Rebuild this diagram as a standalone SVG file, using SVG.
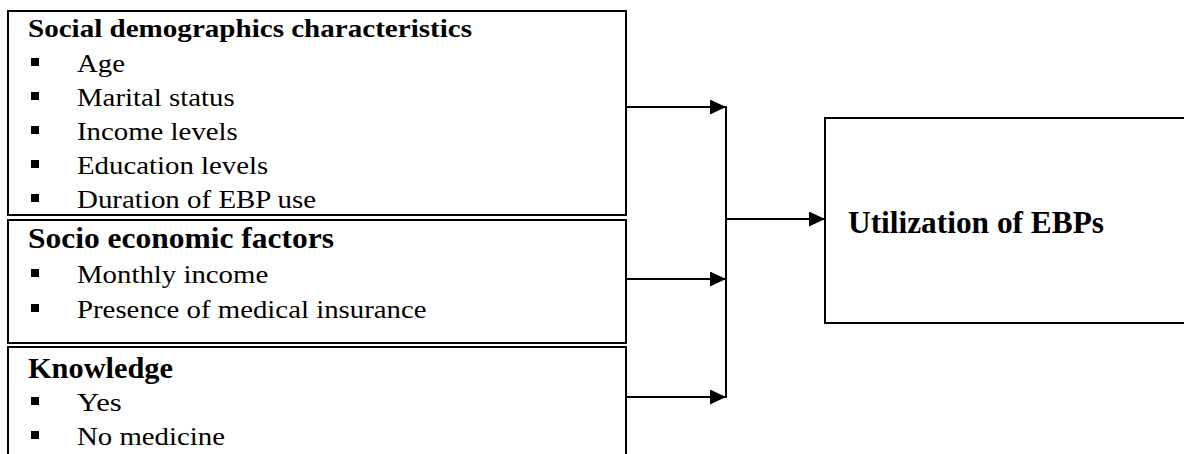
<svg xmlns="http://www.w3.org/2000/svg" width="1184" height="454" viewBox="0 0 1184 454">
  <style>
    .box { fill: #ffffff; stroke: #000000; stroke-width: 2; }
    .title { font-family: "Liberation Serif", "Times New Roman", serif; font-weight: bold; fill: #000; }
    .item { font-family: "Liberation Serif", "Times New Roman", serif; font-size: 26px; fill: #000; }
    .bullet { fill: #000; }
    .conn { fill: none; stroke: #000; stroke-width: 2; }
  </style>
  <defs>
    <marker id="arrow" markerWidth="16" markerHeight="15" refX="16" refY="7.5" orient="auto" markerUnits="userSpaceOnUse">
      <path d="M0,0 L16,7.5 L0,15 Z" fill="#000"/>
    </marker>
  </defs>
  <rect width="1184" height="454" fill="#ffffff"/>

  <g id="node-social-demographics">
    <rect class="box" x="8" y="11" width="618" height="204"/>
    <text class="title" x="28" y="37" font-size="26" textLength="444" lengthAdjust="spacingAndGlyphs">Social demographics characteristics</text>
    <rect class="bullet" x="31" y="58" width="8" height="8"/>
    <text class="item" x="77" y="72" textLength="48" lengthAdjust="spacingAndGlyphs">Age</text>
    <rect class="bullet" x="31" y="92" width="8" height="8"/>
    <text class="item" x="77" y="106" textLength="157.6" lengthAdjust="spacingAndGlyphs">Marital status</text>
    <rect class="bullet" x="31" y="126" width="8" height="8"/>
    <text class="item" x="77" y="140" textLength="160.8" lengthAdjust="spacingAndGlyphs">Income levels</text>
    <rect class="bullet" x="31" y="160" width="8" height="8"/>
    <text class="item" x="77" y="174" textLength="191.2" lengthAdjust="spacingAndGlyphs">Education levels</text>
    <rect class="bullet" x="31" y="194" width="8" height="8"/>
    <text class="item" x="77" y="208" textLength="239.2" lengthAdjust="spacingAndGlyphs">Duration of EBP use</text>
  </g>

  <g id="node-socio-economic">
    <rect class="box" x="8" y="220" width="618" height="123"/>
    <text class="title" x="28" y="248" font-size="29" textLength="306" lengthAdjust="spacingAndGlyphs">Socio economic factors</text>
    <rect class="bullet" x="31" y="269" width="8" height="8"/>
    <text class="item" x="77" y="283" textLength="191.2" lengthAdjust="spacingAndGlyphs">Monthly income</text>
    <rect class="bullet" x="31" y="304" width="8" height="8"/>
    <text class="item" x="77" y="318" textLength="349.5" lengthAdjust="spacingAndGlyphs">Presence of medical insurance</text>
  </g>

  <g id="node-knowledge">
    <rect class="box" x="8" y="347" width="618" height="130"/>
    <text class="title" x="28" y="378" font-size="29" textLength="145" lengthAdjust="spacingAndGlyphs">Knowledge</text>
    <rect class="bullet" x="31" y="397" width="8" height="8"/>
    <text class="item" x="77" y="411" textLength="44.8" lengthAdjust="spacingAndGlyphs">Yes</text>
    <rect class="bullet" x="31" y="431" width="8" height="8"/>
    <text class="item" x="77" y="445" textLength="148" lengthAdjust="spacingAndGlyphs">No medicine</text>
  </g>

  <g id="node-utilization">
    <rect class="box" x="825" y="118" width="400" height="205"/>
    <text class="title" x="848" y="233" font-size="32" textLength="256" lengthAdjust="spacingAndGlyphs">Utilization of EBPs</text>
  </g>

  <g id="connectors">
    <line class="conn" x1="626" y1="107" x2="726" y2="107" marker-end="url(#arrow)"/>
    <line class="conn" x1="626" y1="279" x2="726" y2="279" marker-end="url(#arrow)"/>
    <line class="conn" x1="626" y1="397" x2="726" y2="397" marker-end="url(#arrow)"/>
    <line class="conn" x1="726" y1="106" x2="726" y2="398"/>
    <line class="conn" x1="726" y1="219" x2="825" y2="219" marker-end="url(#arrow)"/>
  </g>
</svg>
